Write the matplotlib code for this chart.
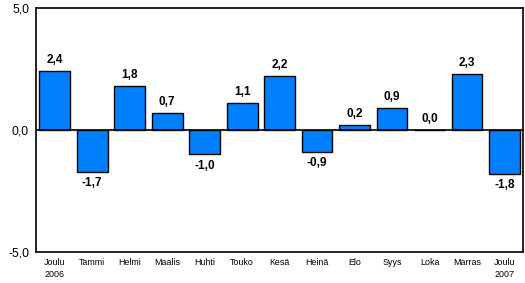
import matplotlib.pyplot as plt
import numpy as np

plt.rcParams['font.family'] = ['Liberation Sans', 'DejaVu Sans']

months = ["Joulu\n2006", "Tammi", "Helmi", "Maalis", "Huhti", "Touko", "Kesä",
          "Heinä", "Elo", "Syys", "Loka", "Marras", "Joulu\n2007"]
values = [2.4, -1.7, 1.8, 0.7, -1.0, 1.1, 2.2, -0.9, 0.2, 0.9, 0.0, 2.3, -1.8]
yticks = [-5.0, 0.0, 5.0]

fig = plt.figure(figsize=(5.25, 2.83), dpi=100)
ax = fig.add_axes([0.0686, 0.1095, 0.928, 0.862])

x = np.arange(len(values))
ax.bar(x, values, width=0.82, color="#0080FF", edgecolor="black", linewidth=1.0, zorder=2)
ax.axhline(0, color="black", lw=1.2, zorder=3)

for xi, v in zip(x, values):
    lab = f"{v:.1f}".replace(".", ",")
    if v >= 0:
        ax.text(xi, v + 0.22, lab, ha="center", va="bottom", fontsize=8.5, fontweight="bold")
    else:
        ax.text(xi, v - 0.22, lab, ha="center", va="top", fontsize=8.5, fontweight="bold")

ax.set_xlim(-0.5, len(values) - 0.5)
ax.set_ylim(-5, 5)
ax.set_yticks(yticks)
ax.set_yticklabels([f"{t:.1f}".replace(".", ",") for t in yticks], fontsize=8.8)
ax.set_xticks(x)
ax.set_xticklabels(months, fontsize=6.4, linespacing=1.5)
ax.tick_params(axis="y", length=0, pad=5)
ax.tick_params(axis="x", length=0, pad=4)
for s in ax.spines.values():
    s.set_linewidth(1.2)

fig.savefig("out.png", dpi=100)
